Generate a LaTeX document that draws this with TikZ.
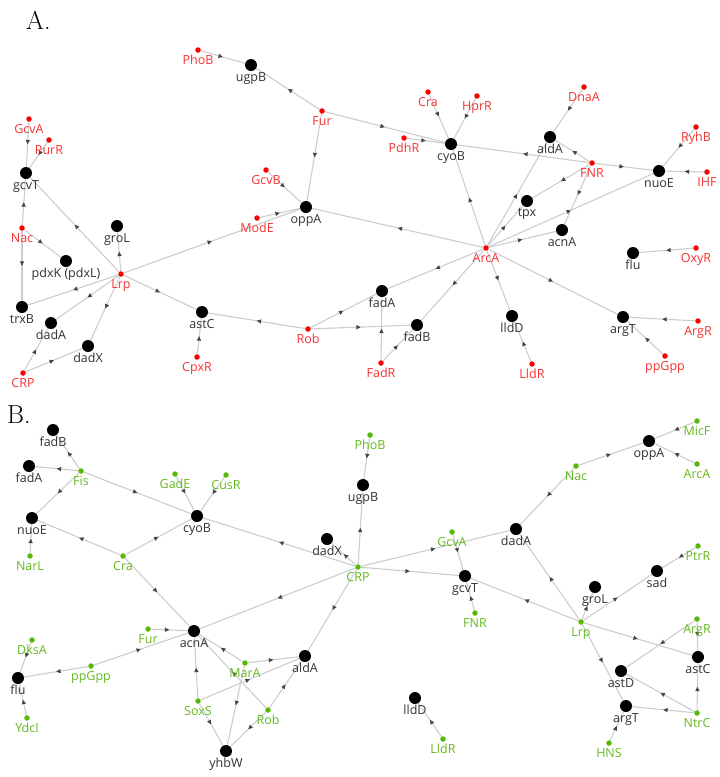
\documentclass[tikz,border=0pt]{standalone}
\usepackage{fontspec}
\newfontfamily\lblfont{Open Sans}
\usetikzlibrary{arrows.meta,decorations.markings,backgrounds}
\definecolor{edgegray}{RGB}{205,205,205}
\definecolor{arrowgray}{RGB}{70,70,70}
\definecolor{genetext}{RGB}{50,50,50}
\definecolor{regred}{RGB}{250,0,0}
\definecolor{redtext}{RGB}{245,50,50}
\definecolor{reggreen}{RGB}{85,185,10}
\definecolor{greentext}{RGB}{100,185,30}
\tikzset{
  gene/.style={circle,fill=black,inner sep=0pt,minimum size=12pt},
  rega/.style={circle,fill=regred,inner sep=0pt,minimum size=5.5pt},
  regb/.style={circle,fill=reggreen,inner sep=0pt,minimum size=5.5pt},
  gl/.style={font=\lblfont\fontsize{12.5}{12.5}\selectfont,text=genetext,inner sep=0pt,label distance=1pt},
  rl/.style={font=\lblfont\fontsize{12.5}{12.5}\selectfont,text=redtext,inner sep=0pt,label distance=2pt},
  gr/.style={font=\lblfont\fontsize{12.5}{12.5}\selectfont,text=greentext,inner sep=0pt,label distance=2pt},
  panel/.style={font=\fontsize{26}{30}\selectfont,inner sep=0pt,anchor=base west},
  rel/.style={draw=edgegray,line width=1.1pt,postaction={decorate},
    decoration={markings,mark=at position 0.5 with {\arrow[color=arrowgray]{Triangle[length=4.5pt,width=4pt]}}}}
}
\newcommand\gn[4]{\node[gene,label={[gl]below:{#4}}] (#1) at (#2,#3) {};}
\newcommand\ra[4]{\node[rega,label={[rl]below:{#4}}] (#1) at (#2,#3) {};}
\newcommand\rb[4]{\node[regb,label={[gr]below:{#4}}] (#1) at (#2,#3) {};}
\begin{document}
\begin{tikzpicture}[x=1pt,y=-1pt]
\useasboundingbox (0,0) rectangle (720,777);
\node[panel] (labA) at (26,29) {A.};
\node[panel] (labB) at (7,423) {B.};
% ---------- Panel A ----------
\gn{augpB}{251}{65}{ugpB}
\gn{acyoB}{451}{144}{cyoB}
\gn{aaldA}{550}{137}{aldA}
\gn{anuoE}{659}{171}{nuoE}
\gn{agcvT}{26}{173}{gcvT}
\gn{agroL}{117}{226}{groL}
\gn{apdxK}{66}{261}{pdxK (pdxL)}
\gn{atrxB}{22}{307}{trxB}
\gn{adadA}{51}{323}{dadA}
\gn{adadX}{88}{346}{dadX}
\gn{aastC}{202}{312}{astC}
\gn{aoppA}{306}{207}{oppA}
\gn{afadA}{382}{291}{fadA}
\gn{afadB}{417}{325}{fadB}
\gn{atpx}{527}{201}{tpx}
\gn{aacnA}{562}{230}{acnA}
\gn{aflu}{633}{253}{flu}
\gn{alldD}{512}{316}{lldD}
\gn{aargT}{623}{317}{argT}
\ra{aPhoB}{198}{50}{PhoB}
\ra{aFur}{322}{111}{Fur}
\ra{aCra}{428}{92}{Cra}
\ra{aHprR}{477}{96}{HprR}
\ra{aPdhR}{404}{138}{PdhR}
\ra{aGcvB}{266}{170}{GcvB}
\ra{aDnaA}{584}{87}{DnaA}
\ra{aFNR}{592}{163}{FNR}
\ra{aRyhB}{696}{127}{RyhB}
\ra{aIHF}{707}{172}{IHF}
\ra{aGcvA}{29}{119}{GcvA}
\ra{aPurR}{49}{140}{PurR}
\ra{aNac}{22}{228}{Nac}
\ra{aLrp}{121}{274}{Lrp}
\ra{aCpxR}{197}{357}{CpxR}
\ra{aCRP}{23}{373}{CRP}
\ra{aModE}{257}{218}{ModE}
\ra{aArcA}{486}{248}{ArcA}
\ra{aRob}{308}{329}{Rob}
\ra{aFadR}{381}{363}{FadR}
\ra{aOxyR}{696}{248}{OxyR}
\ra{aArgR}{698}{321}{ArgR}
\ra{appGpp}{665}{356}{ppGpp}
\ra{aLldR}{532}{364}{LldR}
% ---------- Panel B ----------
\gn{bfadB}{53}{430}{fadB}
\gn{bfadA}{29}{466}{fadA}
\gn{bcyoB}{197}{516}{cyoB}
\gn{bnuoE}{32}{518}{nuoE}
\gn{bugpB}{363}{485}{ugpB}
\gn{bdadX}{327}{539}{dadX}
\gn{bgcvT}{465}{576}{gcvT}
\gn{boppA}{649}{441}{oppA}
\gn{bdadA}{516}{529}{dadA}
\gn{bsad}{657}{571}{sad}
\gn{bgroL}{595}{587}{groL}
\gn{bastC}{698}{657}{astC}
\gn{bastD}{621}{671}{astD}
\gn{bargT}{626}{706}{argT}
\gn{bacnA}{194}{631}{acnA}
\gn{bflu}{18}{678}{flu}
\gn{byhbW}{226}{751}{yhbW}
\gn{baldA}{305}{656}{aldA}
\gn{blldD}{415}{698}{lldD}
\rb{bFis}{81}{471}{Fis}
\rb{bGadE}{175}{474}{GadE}
\rb{bCusR}{226}{475}{CusR}
\rb{bNarL}{30}{556}{NarL}
\rb{bCra}{123}{556}{Cra}
\rb{bPhoB}{370}{435}{PhoB}
\rb{bCRP}{358}{567}{CRP}
\rb{bGcvA}{452}{532}{GcvA}
\rb{bMicF}{697}{421}{MicF}
\rb{bArcA}{697}{464}{ArcA}
\rb{bNac}{576}{466}{Nac}
\rb{bPtrR}{698}{546}{PtrR}
\rb{bLrp}{581}{622}{Lrp}
\rb{bArgR}{697}{619}{ArgR}
\rb{bNtrC}{697}{713}{NtrC}
\rb{bHNS}{609}{743}{HNS}
\rb{bFur}{148}{629}{Fur}
\rb{bDksA}{32}{640}{DksA}
\rb{bppGpp}{91}{666}{ppGpp}
\rb{bYdcI}{27}{718}{YdcI}
\rb{bMarA}{245}{663}{MarA}
\rb{bSoxS}{198}{701}{SoxS}
\rb{bRob}{268}{710}{Rob}
\rb{bLldR}{443}{739}{LldR}
\rb{bFNR}{475}{613}{FNR}
% ---------- Edges ----------
\begin{scope}[on background layer]
\foreach \s/\t in {aPhoB/augpB, aFur/augpB, aFur/acyoB, aPdhR/acyoB, aCra/acyoB, aHprR/acyoB,
  aFur/aoppA, aGcvB/aoppA, aModE/aoppA, aLrp/aoppA, aArcA/aoppA, aArcA/acyoB, aArcA/aaldA,
  aArcA/atpx, aArcA/aacnA, aArcA/anuoE, aArcA/afadA, aArcA/afadB, aArcA/alldD, aArcA/aargT,
  aFNR/atpx, aFNR/aacnA, aFNR/aaldA, aFNR/acyoB, aFNR/anuoE, aDnaA/aaldA, aRyhB/anuoE,
  aIHF/anuoE, aGcvA/agcvT, aPurR/agcvT, aLrp/agcvT, aNac/agcvT, aNac/apdxK, aNac/atrxB,
  aLrp/agroL, aLrp/atrxB, aLrp/adadA, aLrp/adadX, aLrp/aastC, aCRP/adadA, aCRP/adadX,
  aCpxR/aastC, aRob/aastC, aRob/afadA, aRob/afadB, aFadR/afadA, aFadR/afadB, aOxyR/aflu,
  aArgR/aargT, appGpp/aargT, aLldR/alldD}
  {\draw[rel] (\s) -- (\t);}
\foreach \s/\t in {bFis/bfadB, bFis/bfadA, bFis/bnuoE, bFis/bcyoB, bGadE/bcyoB, bCusR/bcyoB,
  bCra/bnuoE, bCra/bcyoB, bNarL/bnuoE, bCra/bacnA, bCRP/bcyoB, bCRP/bdadX, bCRP/bugpB,
  bPhoB/bugpB, bCRP/bdadA, bGcvA/bgcvT, bCRP/bgcvT, bLrp/bgcvT, bNac/boppA, bMicF/boppA,
  bArcA/boppA, bNac/bdadA, bLrp/bdadA, bPtrR/bsad, bLrp/bsad, bLrp/bgroL, bLrp/bastC,
  bLrp/bargT, bArgR/bastD, bArgR/bastC, bNtrC/bastC, bNtrC/bastD, bNtrC/bargT, bHNS/bargT,
  bFNR/bgcvT, bLldR/blldD, bCRP/bacnA, bCRP/baldA, bFur/bacnA, bppGpp/bacnA, bppGpp/bflu,
  bDksA/bflu, bYdcI/bflu, bMarA/bacnA, bSoxS/bacnA, bMarA/byhbW, bSoxS/byhbW, bRob/byhbW,
  bMarA/baldA, bRob/baldA, bSoxS/baldA, bRob/bacnA}
  {\draw[rel] (\s) -- (\t);}
\end{scope}
\end{tikzpicture}
\end{document}
